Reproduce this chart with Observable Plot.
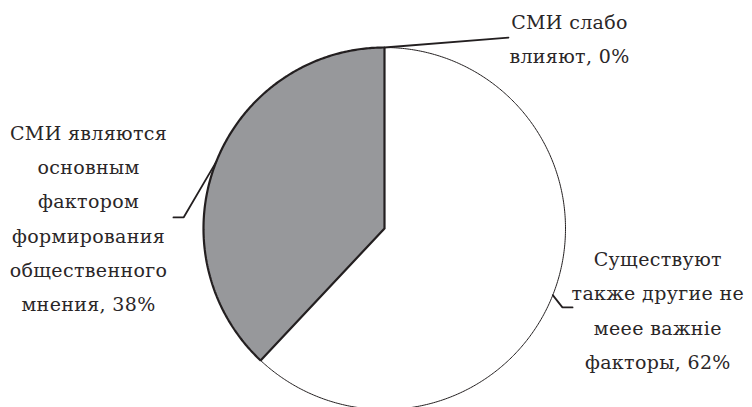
<!DOCTYPE html>
<html>
<head>
<meta charset="utf-8">
<script src="https://cdn.jsdelivr.net/npm/d3@7"></script>
<script src="https://cdn.jsdelivr.net/npm/@observablehq/plot@0.6"></script>
<style>
  html, body { margin: 0; padding: 0; background: #fff; }
  #chart svg text { letter-spacing: 0.35px; }
</style>
</head>
<body>
<div id="chart"></div>
<script>
// Pie slices, clockwise from 12 o'clock
const categories = [
  "СМИ слабо\nвлияют",
  "Существуют\nтакже другие не\nмеее важніе\nфакторы",
  "СМИ являются\nосновным\nфактором\nформирования\nобщественного\nмнения"
];
const values = [0, 62, 38];

// Layout (pie radius units, y up): label centres and leader-line bends
const labelPos = [[1.022, 1.069], [1.51, -0.431], [-1.635, 0.077]];
const leaderBends = [
  [[0.685, 1.055]],
  [[0.983, -0.436], [1.039, -0.436]],
  [[-1.110, 0.061], [-1.166, 0.061]]
];
const sliceFill = ["#ffffff", "#ffffff", "#97989b"];
const sliceStroke = [1, 1, 2.2];

const arcs = d3.pie().sort(null).value(d => d)(values);

// Slice outlines: centre → arc → centre
const slicePts = [];
arcs.forEach((a, i) => {
  const steps = Math.max(2, Math.ceil((a.endAngle - a.startAngle) / 0.01));
  const pts = [[0, 0]];
  for (let k = 0; k <= steps; k++) {
    const t = a.startAngle + (a.endAngle - a.startAngle) * k / steps;
    pts.push([Math.sin(t), Math.cos(t)]);
  }
  pts.push([0, 0]);
  pts.forEach(([x, y], j) => slicePts.push({slice: i, j, x, y}));
});
const order = [1, 0, 2];

// Leader lines from each slice's mid-angle on the rim
const leaderPts = [];
arcs.forEach((a, i) => {
  const m = (a.startAngle + a.endAngle) / 2;
  leaderPts.push({id: i, x: Math.sin(m), y: Math.cos(m)});
  leaderBends[i].forEach(([x, y]) => leaderPts.push({id: i, x, y}));
});

const labelData = categories.map((c, i) => ({
  text: `${c}, ${values[i]}%`,
  x: labelPos[i][0],
  y: labelPos[i][1]
}));

const chart = Plot.plot({
  width: 752,
  height: 407,
  margin: 0,
  x: {domain: [-1, 1], range: [203, 565], axis: null},
  y: {domain: [-1, 1], range: [409, 47], axis: null},
  marks: [
    ...order.map(i => Plot.line(slicePts.filter(p => p.slice === i), {
      x: "x", y: "y",
      fill: sliceFill[i],
      stroke: "#231f20",
      strokeWidth: sliceStroke[i],
      strokeLinejoin: "miter",
      curve: "linear"
    })),
    Plot.line(leaderPts, {
      x: "x", y: "y", z: "id",
      stroke: "#231f20",
      strokeWidth: 1.8,
      strokeLinejoin: "miter"
    }),
    Plot.text(labelData, {
      x: "x", y: "y", text: "text",
      fontSize: 19,
      fontFamily: "DejaVu Serif",
      lineHeight: 1.8,
      textAnchor: "middle",
      fill: "#2a2627"
    })
  ]
});
document.getElementById("chart").appendChild(chart);
</script>
</body>
</html>
